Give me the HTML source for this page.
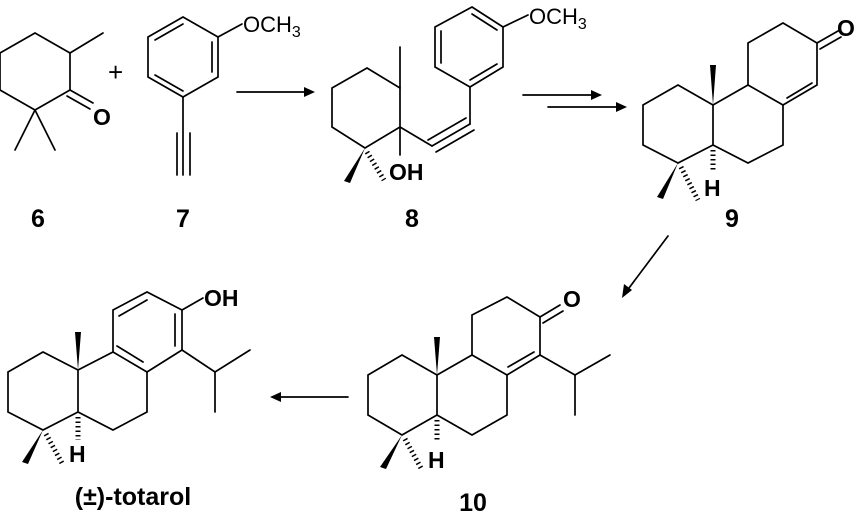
<!DOCTYPE html>
<html><head><style>body{margin:0;background:#fff}svg{display:block}</style></head><body>
<svg width="859" height="512" viewBox="0 0 859 512" xmlns="http://www.w3.org/2000/svg" font-family="Liberation Sans, sans-serif">
<g stroke="#000" stroke-width="1.7" fill="none" stroke-linecap="round">
<polyline points="35,33 70,53 70,90 35,110 0,90 0,53 35,33"/>
<line x1="70" y1="53" x2="103" y2="33"/>
<line x1="70" y1="90" x2="93" y2="103"/><line x1="67" y1="96" x2="90" y2="109"/>
<line x1="35" y1="110" x2="15" y2="150"/><line x1="35" y1="110" x2="55" y2="150"/>
<polygon points="183,17 218,37 218,77 183,97 148,77 148,37"/>
<line x1="212" y1="42" x2="212" y2="72"/><line x1="183" y1="91" x2="155" y2="75"/><line x1="155" y1="40" x2="183" y2="24"/>
<line x1="218" y1="37" x2="242" y2="24"/>
<line x1="183" y1="97" x2="183" y2="175"/><line x1="177" y1="133" x2="177" y2="175"/><line x1="190" y1="133" x2="190" y2="175"/>
<line x1="237" y1="92" x2="308" y2="92"/>
<polyline points="367,68 400,88 400,127 365,148 332,127 332,88 367,68"/>
<line x1="400" y1="88" x2="400" y2="47"/>
<line x1="400" y1="127" x2="400" y2="155"/>
<line x1="400" y1="127" x2="432" y2="146"/>
<line x1="432" y1="146" x2="470" y2="124"/><line x1="428" y1="140" x2="466" y2="118"/><line x1="436" y1="152" x2="474" y2="130"/>
<line x1="470" y1="124" x2="470" y2="87"/>
<polygon points="472,7 503,27 503,67 470,87 435,67 435,27"/>
<line x1="441" y1="31" x2="441" y2="63"/><line x1="470" y1="80" x2="497" y2="64"/><line x1="472" y1="14" x2="497" y2="30"/>
<line x1="503" y1="27" x2="528" y2="15"/>
<line x1="523" y1="95" x2="596" y2="95"/><line x1="548" y1="107" x2="621" y2="107"/>
<polyline points="713,105 678,85 643,105 643,145 678,163 713,145 713,105 748,85 783,105 783,145 748,163 713,145"/>
<polyline points="748,85 748,43 783,23 817,43 817,85 783,105"/>
<line x1="787" y1="98" x2="812" y2="83"/>
<line x1="817" y1="43" x2="838" y2="31"/><line x1="820" y1="49" x2="841" y2="37"/>
<line x1="668" y1="236" x2="626" y2="292"/>
<polyline points="437,375 402,355 368,375 368,415 402,435 437,415 437,375 472,355 507,375 507,415 472,435 437,415"/>
<polyline points="472,355 472,315 507,297 540,317 540,355 507,375"/>
<line x1="508" y1="367" x2="534" y2="352"/>
<line x1="540" y1="317" x2="560" y2="305"/><line x1="543" y1="323" x2="563" y2="311"/>
<polyline points="540,355 575,375 610,355"/><line x1="575" y1="375" x2="575" y2="415"/>
<line x1="348" y1="397" x2="277" y2="397"/>
<polyline points="78,370 43,352 8,372 8,412 43,430 78,412 78,370 113,352 147,372 147,412 113,430 78,412"/>
<polyline points="113,352 113,310 147,292 182,310 182,350 147,372"/>
<line x1="119" y1="316" x2="147" y2="300"/><line x1="175" y1="314" x2="175" y2="346"/><line x1="117" y1="346" x2="143" y2="362"/>
<line x1="182" y1="310" x2="203" y2="298"/>
<polyline points="182,350 215,372 250,350"/><line x1="215" y1="372" x2="215" y2="412"/>
</g>
<g fill="#000">
<polygon points="315,92 304,87 304,97"/>
<polygon points="602,95 591,90 591,100"/><polygon points="627,107 616,102 616,112"/>
<polygon points="622,298 624,284 632,290"/>
<polygon points="270,397 281,392 281,402"/>
<polygon points="365,148 344,181 350,183"/>
<polygon points="713,105 710,65 716,65"/><polygon points="678,163 657,197 663,199"/>
<polygon points="437,375 434,337 440,337"/><polygon points="402,435 380,467 386,469"/>
<polygon points="78,370 75,332 81,332"/><polygon points="43,430 22,462 28,464"/>
</g>
<g stroke="#000" stroke-width="5" stroke-dasharray="1.5,3" fill="none">
<line x1="367" y1="152" x2="384" y2="180"/>
<line x1="681" y1="167" x2="698" y2="200"/><line x1="713" y1="150" x2="713" y2="172"/>
<line x1="405" y1="439" x2="422" y2="470"/><line x1="437" y1="420" x2="437" y2="442"/>
<line x1="46" y1="434" x2="63" y2="465"/><line x1="78" y1="417" x2="78" y2="440"/>
</g>
<g font-size="23" font-weight="bold">
<text x="93" y="125">O</text>
<text x="389" y="180">OH</text>
<text x="837" y="36">O</text>
<text x="704" y="196">H</text>
<text x="563" y="307">O</text>
<text x="428" y="468">H</text>
<text x="204" y="306">OH</text>
<text x="69" y="462">H</text>
</g>
<g font-size="22">
<text x="243" y="32">OCH<tspan font-size="16" dy="5">3</tspan></text>
<text x="529" y="24">OCH<tspan font-size="16" dy="5">3</tspan></text>
<text x="108" y="81" font-size="26">+</text>
</g>
<g font-size="25" font-weight="bold" text-anchor="middle">
<text x="38" y="227">6</text><text x="183" y="227">7</text><text x="412" y="227">8</text>
<text x="732" y="227">9</text><text x="473" y="511">10</text>
<text x="133" y="505">(±)-totarol</text>
</g>
</svg>
</body></html>
